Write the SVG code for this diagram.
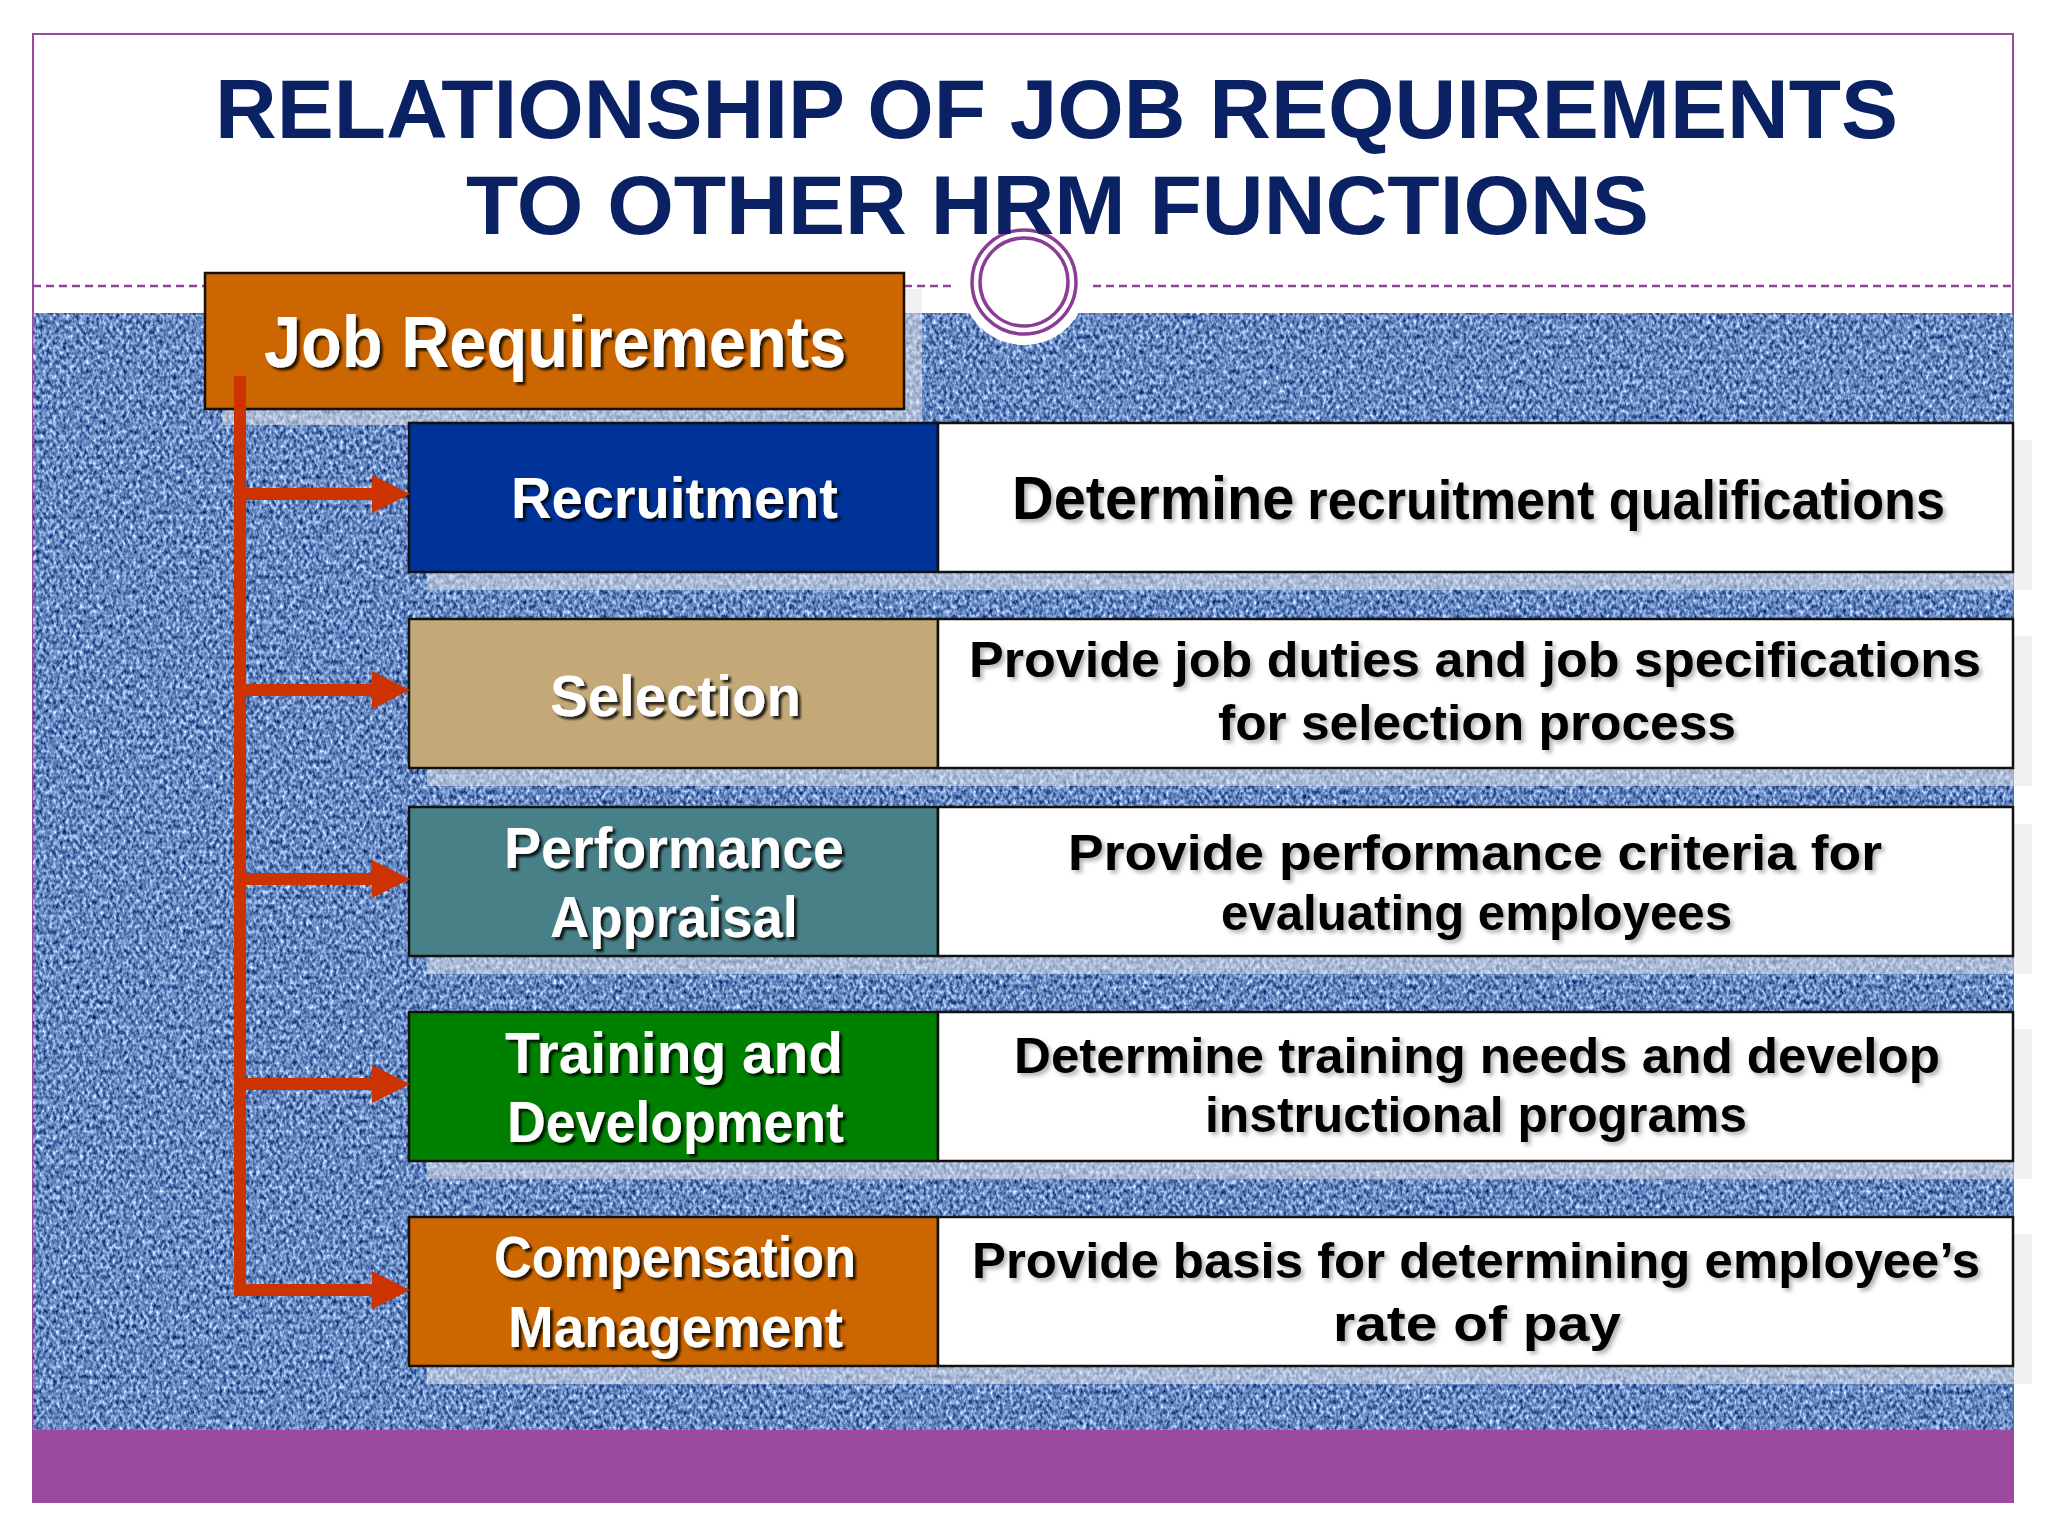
<svg xmlns="http://www.w3.org/2000/svg" width="2048" height="1536" viewBox="0 0 2048 1536">
  <defs>
    <style>
      .title { font-family: "Liberation Sans", Arial, sans-serif; font-weight: bold; font-size: 84px; fill: #0a2163; }
      .lbl { font-family: "Liberation Sans", Arial, sans-serif; font-weight: bold; font-size: 58px; fill: #ffffff; filter: url(#wsh); }
      .job { font-size: 72px; }
      .desc { font-family: "Liberation Sans", Arial, sans-serif; font-weight: bold; font-size: 50px; fill: #000000; filter: url(#bsh); }
      .box { stroke: #111111; stroke-width: 2.5; }
      .shadow { fill: #e4e6ea; fill-opacity: 0.55; }
      .conn { stroke: #cc3300; stroke-width: 12; fill: none; }
    </style>
    <filter id="tex" x="0" y="0" width="1" height="1" color-interpolation-filters="sRGB">
      <feTurbulence type="fractalNoise" baseFrequency="0.3 0.2" numOctaves="2" seed="7" result="n"/>
      <feColorMatrix in="n" type="matrix" values="1.3 0 0 0 -0.23  1.3 0 0 0 -0.1  1.1 0 0 0 0.22  0 0 0 0 1"/>
    </filter>
    <pattern id="weave" width="8" height="8" patternUnits="userSpaceOnUse">
      <rect x="0" y="0" width="4" height="3" fill="#1c3a7a" fill-opacity="0.22"/>
      <rect x="4" y="4" width="4" height="3" fill="#1c3a7a" fill-opacity="0.18"/>
      <rect x="2" y="3" width="2" height="4" fill="#d4e2ff" fill-opacity="0.18"/>
    </pattern>
    <filter id="wsh" x="-5%" y="-20%" width="110%" height="140%">
      <feDropShadow dx="3" dy="3" stdDeviation="1.2" flood-color="#000000" flood-opacity="0.8"/>
    </filter>
    <filter id="bsh" x="-5%" y="-20%" width="110%" height="140%">
      <feDropShadow dx="3" dy="3" stdDeviation="2" flood-color="#000000" flood-opacity="0.3"/>
    </filter>
    <marker id="ah" markerUnits="userSpaceOnUse" markerWidth="40" markerHeight="40" viewBox="0 -20 40 40" refX="0" refY="0" orient="auto">
      <polygon points="0,-19 38,0 0,19" fill="#cc3300"/>
    </marker>
  </defs>

  <!-- slide background and frame -->
  <rect x="33" y="34" width="1980" height="1468" fill="#ffffff" stroke="#9a4a9e" stroke-width="2"/>
  <g stroke="#8e4496" stroke-width="2.5" stroke-dasharray="8 5">
    <line x1="33" y1="286" x2="955" y2="286"/>
    <line x1="1093" y1="286" x2="2013" y2="286"/>
  </g>
  <rect x="33" y="313" width="1980" height="1117" fill="#6687bf" filter="url(#tex)"/>
  <rect x="33" y="313" width="1980" height="1117" fill="url(#weave)"/>
  <rect x="33" y="1430" width="1980" height="72" fill="#9c4a9f"/>
  <circle cx="1024" cy="282" r="63" fill="#ffffff"/>
  <circle cx="1024" cy="282" r="52" fill="none" stroke="#8b3d96" stroke-width="3.5"/>
  <circle cx="1024" cy="282" r="44" fill="none" stroke="#8b3d96" stroke-width="3.5"/>

  <!-- title -->
  <g id="title">
    <text class="title" x="215" y="138" textLength="1683" lengthAdjust="spacingAndGlyphs">RELATIONSHIP OF JOB REQUIREMENTS</text>
    <text class="title" x="466" y="234" textLength="1183" lengthAdjust="spacingAndGlyphs">TO OTHER HRM FUNCTIONS</text>
  </g>

  <!-- shadows -->
  <g id="shadows">
    <rect class="shadow" x="222" y="289" width="700" height="136"/>
    <rect class="shadow" x="427" y="440" width="1605" height="150"/>
    <rect class="shadow" x="427" y="636" width="1605" height="150"/>
    <rect class="shadow" x="427" y="824" width="1605" height="150"/>
    <rect class="shadow" x="427" y="1029" width="1605" height="150"/>
    <rect class="shadow" x="427" y="1234" width="1605" height="150"/>
  </g>

  <g id="job-requirements">
    <rect class="box" x="205" y="273" width="699" height="136" fill="#cc6600"/>
    <text class="lbl job" x="264" y="367" textLength="582" lengthAdjust="spacingAndGlyphs">Job Requirements</text>
  </g>

  <g id="recruitment">
    <rect class="box" x="409" y="423" width="529" height="149" fill="#003399"/>
    <text class="lbl" x="511" y="518" textLength="327" lengthAdjust="spacingAndGlyphs">Recruitment</text>
  </g>
  <g id="recruitment-desc">
    <rect class="box" x="938" y="423" width="1075" height="149" fill="#ffffff"/>
    <text class="desc" x="1012" y="519" textLength="933" lengthAdjust="spacingAndGlyphs"><tspan font-size="62">Determine</tspan> <tspan font-size="56">recruitment qualifications</tspan></text>
  </g>

  <g id="selection">
    <rect class="box" x="409" y="619" width="529" height="149" fill="#c3a977"/>
    <text class="lbl" x="550" y="716" textLength="251" lengthAdjust="spacingAndGlyphs">Selection</text>
  </g>
  <g id="selection-desc">
    <rect class="box" x="938" y="619" width="1075" height="149" fill="#ffffff"/>
    <text class="desc" x="969" y="677" textLength="1012" lengthAdjust="spacingAndGlyphs">Provide job duties and job specifications</text>
    <text class="desc" x="1218" y="740" textLength="518" lengthAdjust="spacingAndGlyphs">for selection process</text>
  </g>

  <g id="performance-appraisal">
    <rect class="box" x="409" y="807" width="529" height="149" fill="#488087"/>
    <text class="lbl" x="504" y="868" textLength="340" lengthAdjust="spacingAndGlyphs">Performance</text>
    <text class="lbl" x="550" y="937" textLength="248" lengthAdjust="spacingAndGlyphs">Appraisal</text>
  </g>
  <g id="performance-appraisal-desc">
    <rect class="box" x="938" y="807" width="1075" height="149" fill="#ffffff"/>
    <text class="desc" x="1068" y="870" textLength="814" lengthAdjust="spacingAndGlyphs">Provide performance criteria for</text>
    <text class="desc" x="1221" y="930" textLength="511" lengthAdjust="spacingAndGlyphs">evaluating employees</text>
  </g>

  <g id="training-development">
    <rect class="box" x="409" y="1012" width="529" height="149" fill="#008000"/>
    <text class="lbl" x="505" y="1073" textLength="338" lengthAdjust="spacingAndGlyphs">Training and</text>
    <text class="lbl" x="507" y="1142" textLength="337" lengthAdjust="spacingAndGlyphs">Development</text>
  </g>
  <g id="training-development-desc">
    <rect class="box" x="938" y="1012" width="1075" height="149" fill="#ffffff"/>
    <text class="desc" x="1014" y="1073" textLength="926" lengthAdjust="spacingAndGlyphs">Determine training needs and develop</text>
    <text class="desc" x="1205" y="1132" textLength="542" lengthAdjust="spacingAndGlyphs">instructional programs</text>
  </g>

  <g id="compensation-management">
    <rect class="box" x="409" y="1217" width="529" height="149" fill="#cc6600"/>
    <text class="lbl" x="494" y="1277" textLength="362" lengthAdjust="spacingAndGlyphs">Compensation</text>
    <text class="lbl" x="508" y="1347" textLength="335" lengthAdjust="spacingAndGlyphs">Management</text>
  </g>
  <g id="compensation-management-desc">
    <rect class="box" x="938" y="1217" width="1075" height="149" fill="#ffffff"/>
    <text class="desc" x="972" y="1278" textLength="1008" lengthAdjust="spacingAndGlyphs">Provide basis for determining employee’s</text>
    <text class="desc" x="1333" y="1341" textLength="288" lengthAdjust="spacingAndGlyphs">rate of pay</text>
  </g>

  <!-- connectors -->
  <g id="connectors" class="conn">
    <line x1="240" y1="376" x2="240" y2="1296"/>
    <line x1="234" y1="494" x2="372" y2="494" marker-end="url(#ah)"/>
    <line x1="234" y1="690" x2="372" y2="690" marker-end="url(#ah)"/>
    <line x1="234" y1="879" x2="372" y2="879" marker-end="url(#ah)"/>
    <line x1="234" y1="1084" x2="372" y2="1084" marker-end="url(#ah)"/>
    <line x1="246" y1="1290" x2="372" y2="1290" marker-end="url(#ah)"/>
  </g>
</svg>
